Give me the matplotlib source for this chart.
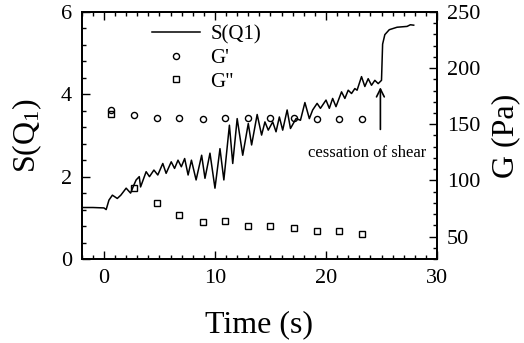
import numpy as np
import matplotlib
matplotlib.use('Agg')
import matplotlib.pyplot as plt
from matplotlib.ticker import MultipleLocator
from matplotlib.lines import Line2D

plt.rcParams['font.family'] = 'Liberation Serif'
plt.rcParams['mathtext.fontset'] = 'custom'
plt.rcParams['mathtext.rm'] = 'Liberation Serif'
plt.rcParams['mathtext.it'] = 'Liberation Serif'

# S(Q1) trace
time_s = [-2.0, -1.0, 0.0, 0.2, 0.45, 0.76, 1.2, 1.52, 2.0, 2.4, 2.7, 2.9, 3.18, 3.3,
          3.8, 4.1, 4.5, 4.85, 5.3, 5.6, 6.06, 6.36, 6.67, 6.97, 7.27, 7.58, 7.88,
          8.3, 8.8, 9.1, 9.55, 10.0, 10.45, 10.8, 11.3, 11.6, 12.0, 12.5, 13.0, 13.3,
          13.8, 14.2, 14.5, 14.8, 15.2, 15.5, 15.8, 16.1, 16.5, 16.8, 17.3, 17.7,
          18.1, 18.5, 18.8, 19.2, 19.5, 20.0, 20.3, 20.6, 20.9, 21.4, 21.7, 22.0,
          22.3, 22.6, 22.8, 23.2, 23.5, 23.8, 24.1, 24.4, 24.7, 25.0, 25.1, 25.3,
          25.7, 26.4, 27.3, 27.6, 27.9]
s_q1 = [1.25, 1.25, 1.24, 1.20, 1.43, 1.55, 1.47, 1.55, 1.72, 1.60, 1.80, 1.92, 2.0, 1.75,
        2.12, 2.0, 2.16, 2.04, 2.32, 2.08, 2.36, 2.2, 2.4, 2.24, 2.44, 2.04, 2.4,
        1.92, 2.52, 1.96, 2.57, 1.72, 2.68, 1.92, 3.25, 2.32, 3.41, 2.52, 3.29, 2.77,
        3.51, 3.01, 3.33, 3.13, 3.33, 3.09, 3.45, 3.13, 3.62, 3.17, 3.41, 3.37,
        3.8, 3.41, 3.62, 3.78, 3.66, 3.86, 3.66, 3.9, 3.7, 4.06, 3.9, 4.1,
        4.02, 4.14, 4.1, 4.43, 4.19, 4.38, 4.22, 4.34, 4.26, 4.34, 5.22, 5.45,
        5.57, 5.63, 5.65, 5.69, 5.68]

# moduli (right axis)
t_g = [0.6, 2.7, 4.8, 6.8, 8.9, 10.9, 13.0, 15.0, 17.1, 19.2, 21.2, 23.2]
g_prime = [163, 158, 156, 156, 155, 156, 156, 156, 156, 155, 155, 155]
g_double = [159.5, 93, 79.5, 69.5, 62.5, 63.5, 59.5, 59.5, 57.5, 54.5, 54.5, 52.5]

fig = plt.figure(figsize=(5.24, 3.43), dpi=100)
ax = fig.add_axes([0.156, 0.245, 0.678, 0.72])
ax2 = ax.twinx()

ax.plot(time_s, s_q1, color='black', lw=1.1)
ax2.plot(t_g, g_prime, 'o', ms=4.4, mfc='none', mec='black', mew=1.0)
ax2.plot(t_g, g_double, 's', ms=4.4, mfc='none', mec='black', mew=1.0)

ax.set_xlim(-2, 30)
ax.set_ylim(0, 6)
ax2.set_ylim(30, 250)

ax.xaxis.set_major_locator(MultipleLocator(10))
ax.xaxis.set_minor_locator(MultipleLocator(1))
ax.yaxis.set_major_locator(MultipleLocator(2))
ax.yaxis.set_minor_locator(MultipleLocator(0.4))
ax2.yaxis.set_minor_locator(MultipleLocator(10))
ax2.set_yticks([50, 100, 150, 200, 250])

ax.tick_params(which='both', direction='in', top=True, right=False, labelsize=16, width=1.0, pad=7)
ax.tick_params(which='major', length=6)
ax.tick_params(which='minor', length=3)
ax2.tick_params(which='both', direction='in', labelsize=16, width=1.0, pad=7)
ax2.tick_params(which='major', length=6)
ax2.tick_params(which='minor', length=3)
for a in (ax, ax2):
    for sp in a.spines.values():
        sp.set_linewidth(1.3)

ax.set_xlabel('Time (s)', fontsize=23, labelpad=16)
ax.set_ylabel(r'S(Q$_\mathrm{1}$)', fontsize=23, labelpad=12)
ax2.set_ylabel('G (Pa)', fontsize=23, labelpad=8)

ax.annotate('', xy=(24.9, 4.24), xytext=(24.9, 3.08),
            arrowprops=dict(arrowstyle='->', lw=1.2, color='black', mutation_scale=14))
ax.text(23.7, 2.57, 'cessation of shear', fontsize=12, ha='center', va='center')

handles = [Line2D([], [], color='black', lw=1.1),
           Line2D([], [], marker='o', ls='none', ms=4.4, mfc='none', mec='black'),
           Line2D([], [], marker='s', ls='none', ms=4.4, mfc='none', mec='black')]
ax.legend(handles, ['S(Q1)', "G'", 'G"'], loc='upper left', bbox_to_anchor=(0.145, 1.025),
          frameon=False, fontsize=15, handlelength=2.3, labelspacing=0.2, handletextpad=0.5)

fig.savefig('out.png', dpi=100)
